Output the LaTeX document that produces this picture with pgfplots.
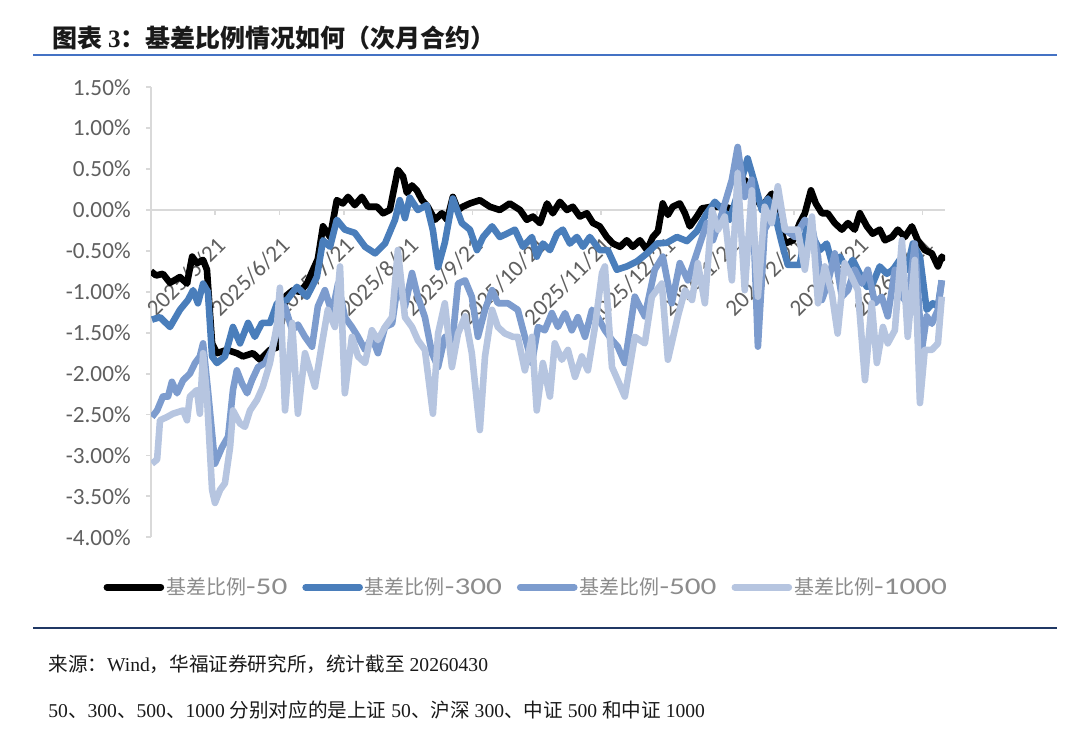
\documentclass[border=0pt]{standalone}
\usepackage{fontspec}
\setmainfont{Carlito}
\newfontfamily\cjk{Noto Sans CJK SC}
\newfontfamily\tnr{Liberation Serif}
\usepackage{graphicx}
\usepackage{pgfplots}
\pgfplotsset{compat=1.18}
\usepackage{pgfplotstable}

\definecolor{c300}{RGB}{74,126,187}
\definecolor{c500}{RGB}{125,156,206}
\definecolor{c1000}{RGB}{182,197,224}
\definecolor{axgray}{RGB}{217,217,217}
\definecolor{tickgray}{RGB}{95,95,95}
\definecolor{leggray}{RGB}{140,140,140}
\definecolor{titleline}{RGB}{68,114,196}
\definecolor{bottomline}{RGB}{32,56,100}

\newcommand{\legtxt}[1]{{\cjk\fontsize{10}{12}\selectfont 基差比例}\scalebox{1.3}[1]{-#1}}

\pgfplotstableread{
d y
0 -0.75
1.6 -0.80
3.7 -0.78
5.9 -0.89
9.0 -0.82
11.2 -0.90
12.8 -0.57
14.3 -0.65
16.2 -0.61
17.4 -0.73
19.0 -1.63
20.5 -1.75
23.6 -1.71
26.7 -1.75
28.6 -1.79
31.7 -1.75
33.9 -1.83
37.0 -1.71
39.2 -1.68
40.1 -1.50
42.0 -1.05
44.2 -0.98
46.3 -1.00
48.5 -0.90
50.4 -0.73
51.9 -0.60
53.5 -0.20
55.7 -0.33
57.8 0.12
59.7 0.08
61.3 0.16
63.4 0.06
65.6 0.16
67.5 0.04
70.3 0.04
72.2 -0.04
74.3 0.00
75.3 0.20
76.8 0.49
78.4 0.41
79.6 0.21
81.2 0.30
82.7 0.24
84.3 0.12
86.1 0.04
88.3 -0.12
90.5 -0.04
92.1 -0.12
93.9 0.16
95.5 0.00
97.0 0.04
99.2 0.08
102.3 0.12
105.4 0.04
108.5 0.00
111.6 0.08
114.8 0.00
116.9 -0.12
118.8 -0.08
121.0 -0.16
123.2 0.08
125.0 -0.04
127.2 0.10
129.4 0.00
131.2 0.04
133.4 -0.08
135.6 -0.04
137.5 -0.16
139.6 -0.20
141.8 -0.33
143.7 -0.41
145.9 -0.45
148.0 -0.37
149.9 -0.45
152.1 -0.37
154.3 -0.49
156.1 -0.33
157.7 -0.26
159.2 0.08
160.8 -0.06
162.3 0.04
164.5 0.08
166.1 -0.04
167.6 -0.20
169.8 -0.08
171.4 0.02
174.5 0.04
178.5 0.04
181.6 0.00
184.7 0.37
187.8 0.16
190.0 0.04
193.1 0.20
195.0 -0.10
197.2 -0.41
199.7 -0.37
201.8 -0.16
203.4 -0.04
205.3 0.24
206.8 0.08
208.7 -0.04
210.5 -0.04
212.7 -0.16
214.9 -0.24
216.8 -0.16
218.9 -0.24
220.5 -0.04
222.7 -0.20
224.5 -0.29
226.7 -0.24
228.3 -0.37
230.5 -0.33
232.3 -0.24
234.5 -0.33
236.7 -0.20
238.5 -0.37
240.7 -0.49
242.9 -0.53
244.8 -0.69
246.0 -0.57
246.9 -0.62
}\tblA

\pgfplotstableread{
d y
0.3 -1.34
2.8 -1.31
5.9 -1.43
9.0 -1.22
11.5 -1.10
13.1 -0.98
14.6 -1.14
16.2 -0.90
17.7 -1.00
19.0 -1.79
20.5 -1.87
23.0 -1.79
25.5 -1.43
27.7 -1.63
30.2 -1.38
32.3 -1.55
34.5 -1.38
37.0 -1.38
39.2 -1.14
42.3 -1.10
45.4 -0.94
48.5 -1.06
51.6 -0.82
53.5 -0.37
55.7 -0.45
57.8 -0.12
60.3 -0.24
63.4 -0.28
66.6 -0.45
69.7 -0.53
72.8 -0.41
75.9 -0.12
77.4 0.12
79.0 -0.10
80.5 0.15
83.0 0.00
85.8 0.06
87.7 -0.25
89.3 -0.70
91.4 -0.40
93.9 0.14
96.7 -0.16
99.2 -0.24
101.4 -0.49
103.3 -0.33
106.1 -0.20
108.5 -0.33
110.7 -0.29
113.2 -0.24
115.7 -0.45
118.5 -0.33
120.0 -0.57
121.9 -0.41
124.1 -0.49
126.3 -0.29
128.1 -0.24
130.3 -0.41
132.5 -0.33
134.4 -0.45
136.5 -0.33
139.6 -0.49
142.1 -0.49
144.9 -0.73
148.0 -0.69
151.1 -0.63
154.3 -0.53
157.4 -0.41
160.5 -0.40
163.6 -0.33
166.7 -0.38
169.8 -0.26
172.9 -0.04
175.4 0.10
177.9 0.00
180.0 -0.12
182.5 0.20
185.6 0.63
187.8 0.33
190.0 0.00
191.9 0.14
194.1 -0.06
196.2 -0.40
198.1 -0.67
201.8 -0.67
204.0 -0.20
205.9 -0.33
208.1 -0.49
210.2 -0.41
212.1 -0.69
214.3 -0.57
216.5 -0.73
218.3 -0.61
220.5 -0.78
222.7 -0.94
224.5 -0.90
226.7 -0.69
228.9 -0.78
230.8 -0.73
232.9 -0.61
235.1 -0.73
237.0 -0.41
239.2 -0.57
241.3 -1.22
243.2 -1.14
244.8 -1.18
246.0 -0.86
}\tblB

\pgfplotstableread{
d y
0.3 -2.53
1.9 -2.45
3.7 -2.28
5.3 -2.28
6.5 -2.10
8.1 -2.24
10.0 -2.08
12.1 -2.00
13.7 -1.87
15.2 -1.79
16.2 -1.63
17.7 -2.20
19.9 -3.10
22.1 -2.90
24.0 -2.77
25.5 -2.20
26.7 -1.96
28.3 -2.12
29.9 -2.24
31.4 -2.08
33.3 -1.92
35.5 -1.87
37.6 -1.71
39.5 -1.43
41.7 -1.18
43.9 -1.47
45.7 -1.40
47.9 -1.55
50.1 -1.67
51.9 -1.18
54.1 -0.98
56.3 -1.26
58.2 -0.90
60.3 -1.31
62.5 -1.43
64.4 -1.55
66.6 -1.71
68.7 -1.55
70.6 -1.75
72.8 -1.43
75.0 -1.39
76.8 -0.90
79.0 -1.18
81.2 -0.77
83.0 -1.06
85.2 -1.31
87.4 -1.75
89.3 -1.92
91.4 -1.55
93.6 -1.67
95.5 -0.90
97.7 -0.86
99.8 -1.06
101.7 -1.55
103.9 -1.22
106.1 -0.98
107.9 -1.14
111.0 -1.14
114.1 -1.22
116.3 -1.55
118.5 -1.87
120.4 -1.43
122.5 -1.47
124.7 -1.26
126.6 -1.43
128.8 -1.26
130.9 -1.47
132.8 -1.31
135.0 -1.55
137.2 -1.22
139.0 -1.31
141.2 -1.47
143.4 -1.59
145.2 -1.67
147.4 -1.87
150.5 -1.06
153.6 -1.30
156.7 -0.73
159.2 -0.57
162.0 -1.14
164.5 -0.65
167.0 -0.86
170.1 -0.49
172.9 -0.16
174.8 -0.37
177.6 -0.04
180.7 0.37
182.5 0.77
184.7 0.16
186.9 0.37
188.8 -1.67
190.9 -0.24
193.1 -0.08
195.0 0.20
197.2 -0.24
200.3 -0.33
203.4 -0.12
205.6 -0.20
207.5 -0.57
208.7 -1.10
210.5 -0.90
212.7 -0.53
214.9 -1.06
216.8 -0.98
218.9 -0.73
221.1 -0.90
223.0 -0.73
225.2 -1.14
227.3 -1.06
229.2 -1.30
231.4 -0.73
233.6 -1.06
235.4 -1.14
237.6 -0.41
239.8 -1.71
241.3 -1.30
242.9 -1.39
244.8 -1.22
246.0 -0.86
}\tblC

\pgfplotstableread{
d y
0.3 -3.10
1.9 -3.05
2.8 -2.57
5.0 -2.53
6.8 -2.49
10.0 -2.45
11.2 -2.57
12.1 -2.28
14.3 -2.20
15.2 -2.49
16.2 -1.75
17.4 -2.28
19.0 -3.42
19.9 -3.58
21.5 -3.42
23.0 -3.34
24.6 -2.90
25.5 -2.45
27.7 -2.61
29.2 -2.65
30.8 -2.45
33.0 -2.32
34.8 -2.16
37.0 -1.87
39.2 -1.40
40.1 -0.95
41.7 -2.45
43.9 -1.38
45.7 -2.49
47.9 -1.75
51.0 -2.16
53.2 -1.63
55.0 -1.22
57.2 -1.43
58.8 -0.69
60.3 -2.24
62.5 -1.55
64.4 -1.79
66.6 -1.87
68.7 -1.47
70.6 -1.59
72.8 -1.43
75.0 -1.31
76.8 -0.49
79.0 -1.31
81.2 -1.43
83.0 -1.59
85.2 -1.71
87.7 -2.49
89.3 -1.51
91.4 -1.14
93.6 -1.92
95.5 -1.51
97.7 -1.30
99.8 -1.75
102.3 -2.69
103.9 -1.79
106.1 -1.22
107.9 -1.43
110.1 -1.51
112.6 -1.55
114.1 -1.55
116.3 -1.96
118.5 -1.55
120.0 -2.45
121.9 -1.87
124.1 -2.28
125.6 -1.63
127.8 -1.83
129.7 -1.71
131.9 -2.04
134.0 -1.79
135.9 -1.96
138.1 -1.43
140.3 -0.77
141.2 -0.69
143.4 -1.92
145.2 -2.08
147.4 -2.28
150.5 -1.55
153.6 -1.63
155.8 -1.06
158.9 -0.90
160.8 -1.83
163.9 -1.30
166.1 -0.98
168.3 -1.10
170.1 -0.65
172.3 -1.14
174.5 0.00
176.4 -0.24
178.5 -0.08
180.7 -0.86
182.5 0.45
184.7 -0.98
186.9 0.24
188.8 -1.06
190.9 0.04
193.1 -0.16
195.0 0.29
197.2 -0.24
201.2 -0.24
203.4 -0.73
205.6 -0.08
207.5 -1.14
209.6 -0.69
211.8 -1.02
213.6 -1.51
215.8 -0.65
218.0 -0.82
219.9 -0.98
222.1 -2.08
224.2 -1.14
225.8 -1.87
227.7 -1.43
229.2 -1.63
231.4 -1.47
233.6 -0.37
235.4 -1.55
237.6 -0.61
239.2 -2.36
240.7 -1.71
242.9 -1.71
244.8 -1.63
246.0 -1.06
}\tblD

\begin{document}
\begin{tikzpicture}
\path (0pt,0pt) rectangle (540pt,368.5pt);
% title
\node[anchor=west, inner sep=0pt, text=black!90] at (26pt,349.5pt)
  {\fontsize{12.5}{14}\selectfont\cjk\bfseries 图表 {\tnr\bfseries 3}：基差比例情况如何（次月合约）};
\draw[titleline, line width=1pt] (16.5pt,341pt) -- (528.5pt,341pt);
\draw[bottomline, line width=1pt] (16.5pt,54.5pt) -- (528.5pt,54.5pt);
% source
\node[anchor=west, inner sep=0pt, text=black!90] at (24pt,36.5pt)
  {\fontsize{9.8}{11}\selectfont\tnr{\cjk 来源：}Wind{\cjk ，华福证券研究所，统计截至} 20260430};
\node[anchor=west, inner sep=0pt, text=black!90] at (24pt,13.5pt)
  {\fontsize{9.8}{11}\selectfont\tnr 50{\cjk 、}300{\cjk 、}500{\cjk 、}1000 {\cjk 分别对应的是上证} 50{\cjk 、沪深} 300{\cjk 、中证} 500 {\cjk 和中证} 1000};

\begin{axis}[
  at={(75.5pt,263.5pt)}, anchor=origin,
  scale only axis, width=397pt, height=225pt,
  xmin=0, xmax=247, ymin=-4, ymax=1.5,
  axis x line=middle, axis y line=left,
  axis line style={draw=axgray, line width=0.9pt, -},
  xtick={0,20,40,60,80,100,120,140,160,180,200,220,240},
  xticklabels={2025/4/21,2025/5/21,2025/6/21,2025/7/21,2025/8/21,2025/9/21,2025/10/21,2025/11/21,2025/12/21,2026/1/21,2026/2/21,2026/3/21,2026/4/21},
  ytick={-4,-3.5,-3,-2.5,-2,-1.5,-1,-0.5,0,0.5,1,1.5},
  yticklabels={-4.00\%,-3.50\%,-3.00\%,-2.50\%,-2.00\%,-1.50\%,-1.00\%,-0.50\%,0.00\%,0.50\%,1.00\%,1.50\%},
  tick style={draw=axgray, line width=0.9pt},
  major tick length=2.5pt,
  tick align=outside,
  ticklabel style={font=\fontsize{11.6}{12}\selectfont, text=tickgray},
  yticklabel style={anchor=east, inner sep=0pt, xshift=-7.5pt},
  xticklabel style={xshift=0pt, yshift=-10pt, rotate=45, anchor=north east, inner sep=0pt},
  legend columns=4,
  legend cell align=left,
  legend style={draw=none, fill=none, at={(rel axis cs:0.472,-0.111)}, anchor=center,
    font=\fontsize{12}{12}\selectfont, text=leggray,
    nodes={inner xsep=0.5pt},
    /tikz/every even column/.append style={column sep=7pt},
    /tikz/every odd column/.append style={column sep=0.5pt}},
  legend image code/.code={\draw[#1, line width=3.3pt, line cap=round] (0pt,0pt) -- (27pt,0pt);},
]
\addplot[black, line width=3.3pt, line join=round] table[x=d, y=y] {\tblA};
\addlegendentry{\legtxt{50}}
\addplot[c300, line width=3.3pt, line join=round] table[x=d, y=y] {\tblB};
\addlegendentry{\legtxt{300}}
\addplot[c500, line width=3.3pt, line join=round] table[x=d, y=y] {\tblC};
\addlegendentry{\legtxt{500}}
\addplot[c1000, line width=3.3pt, line join=round] table[x=d, y=y] {\tblD};
\addlegendentry{\legtxt{1000}}
\end{axis}
\end{tikzpicture}
\end{document}
